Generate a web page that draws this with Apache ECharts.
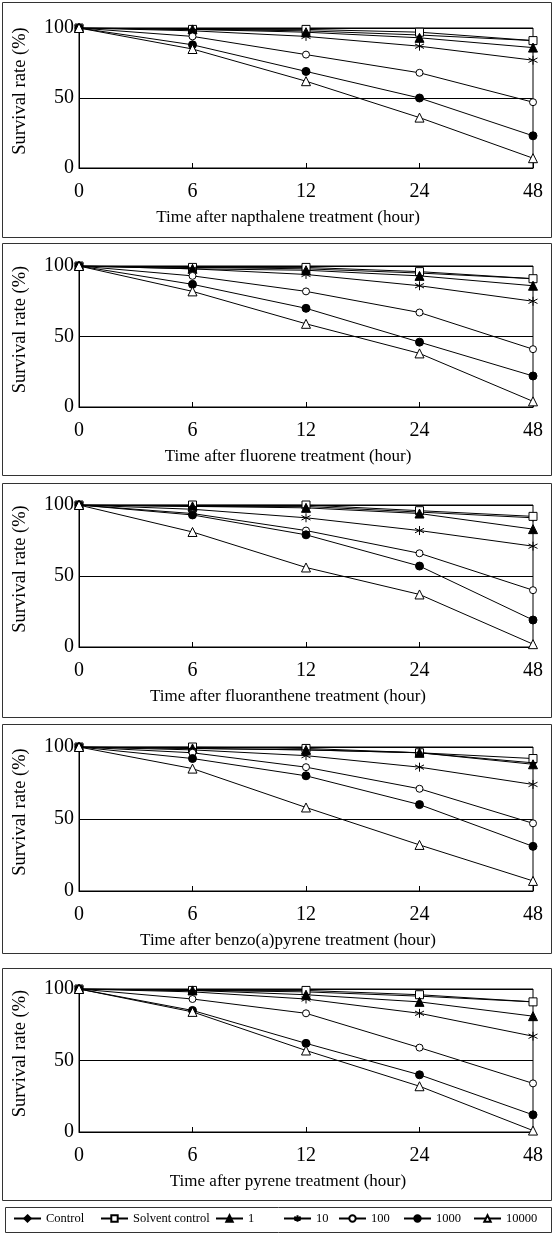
<!DOCTYPE html>
<html><head><meta charset="utf-8">
<script src="https://cdn.jsdelivr.net/npm/echarts@6/dist/echarts.min.js"></script>
<style>html,body{margin:0;padding:0;background:#fff}#c{width:555px;height:1233px}</style>
</head><body><div id="c"></div>
<script>
// ---- data ----
const hours = ['0', '6', '12', '24', '48'];
const seriesNames = ['Control', 'Solvent control', '1', '10', '100', '1000', '10000'];
const yTicks = [0, 50, 100];
const xTitles = [
  'Time after napthalene treatment (hour)',
  'Time after fluorene treatment (hour)',
  'Time after fluoranthene treatment (hour)',
  'Time after benzo(a)pyrene treatment (hour)',
  'Time after pyrene treatment (hour)'
];
const yTitle = 'Survival rate (%)';
// order: Control, Solvent control, 1, 10, 100, 1000, 10000
const napthalene = [
  [100, 99, 98, 95, 91],
  [100, 99, 99, 97, 91],
  [100, 99, 97, 93, 86],
  [100, 98, 94, 87, 77],
  [100, 94, 81, 68, 47],
  [100, 88, 69, 50, 23],
  [100, 85, 62, 36, 7]
];
const fluorene = [
  [100, 99, 98, 95, 91],
  [100, 99, 99, 96, 91],
  [100, 98, 97, 93, 86],
  [100, 98, 94, 86, 75],
  [100, 93, 82, 67, 41],
  [100, 87, 70, 46, 22],
  [100, 82, 59, 38, 4]
];
const fluoranthene = [
  [100, 99, 99, 95, 91],
  [100, 100, 100, 96, 92],
  [100, 99, 98, 94, 83],
  [100, 97, 91, 82, 71],
  [100, 94, 82, 66, 40],
  [100, 93, 79, 57, 19],
  [100, 81, 56, 37, 2]
];
const benzoapyrene = [
  [100, 99, 98, 96, 89],
  [100, 100, 99, 96, 92],
  [100, 99, 98, 96, 88],
  [100, 98, 94, 86, 74],
  [100, 96, 86, 71, 47],
  [100, 92, 80, 60, 31],
  [100, 85, 58, 32, 7]
];
const pyrene = [
  [100, 99, 98, 95, 91],
  [100, 99, 99, 96, 91],
  [100, 99, 96, 91, 81],
  [100, 98, 93, 83, 67],
  [100, 93, 83, 59, 34],
  [100, 85, 62, 40, 12],
  [100, 84, 57, 32, 1]
];
const panels = [napthalene, fluorene, fluoranthene, benzoapyrene, pyrene];

// ---- layout / style ----
const FONT = '"Liberation Serif","Times New Roman",serif';
const gridTops = [28, 266, 505, 747, 989];
const gridHeights = [140, 141, 142, 144, 143];
const boxes = [[2, 2, 549, 235], [2, 243, 549, 232], [2, 483, 549, 234], [2, 724, 549, 229], [2, 968, 549, 232], [5, 1207, 546, 25]];
const ASTER = 'path://M0,-5L0,5M-4.33,-2.5L4.33,2.5M-4.33,2.5L4.33,-2.5';
const symStyles = [
  { symbol: 'diamond', symbolSize: 7, fill: '#000' },
  { symbol: 'rect', symbolSize: 8, fill: '#fff' },
  { symbol: 'triangle', symbolSize: 9, fill: '#000' },
  { symbol: ASTER, symbolSize: 9, fill: 'none' },
  { symbol: 'circle', symbolSize: 7, fill: '#fff' },
  { symbol: 'circle', symbolSize: 8, fill: '#000' },
  { symbol: 'triangle', symbolSize: 9, fill: '#fff' }
];
const legendLefts = [13, 100, 215, 283, 338, 403, 473];

const grids = [], xAxes = [], yAxes = [], series = [];
panels.forEach((pdata, p) => {
  grids.push({ left: 79, right: 22, top: gridTops[p], height: gridHeights[p], show: true, borderColor: '#000', borderWidth: 1 });
  xAxes.push({
    gridIndex: p, type: 'category', data: hours, boundaryGap: false,
    axisLine: { lineStyle: { color: '#000', width: 1 } },
    axisTick: { inside: true, length: 5, lineStyle: { color: '#000' } },
    axisLabel: { color: '#000', fontFamily: FONT, fontSize: 20, margin: 14 },
    splitLine: { show: false },
    name: xTitles[p], nameLocation: 'middle', nameGap: 41,
    nameTextStyle: { color: '#000', fontFamily: FONT, fontSize: 17, padding: [0, 36, 0, 0] }
  });
  yAxes.push({
    gridIndex: p, type: 'value', min: yTicks[0], max: yTicks[yTicks.length - 1], interval: yTicks[1] - yTicks[0],
    axisLine: { show: true, lineStyle: { color: '#000', width: 1 } },
    axisTick: { show: false },
    axisLabel: { color: '#000', fontFamily: FONT, fontSize: 20, margin: 5 },
    splitLine: { show: true, lineStyle: { color: '#000', width: 1 } },
    name: yTitle, nameLocation: 'middle', nameGap: 49, nameRotate: 90,
    nameTextStyle: { color: '#000', fontFamily: FONT, fontSize: 18.5, padding: [0, 0, 0, 14] }
  });
  pdata.forEach((vals, i) => {
    const s = symStyles[i];
    series.push({
      type: 'line', name: seriesNames[i], xAxisIndex: p, yAxisIndex: p,
      data: vals, symbol: s.symbol, symbolSize: s.symbolSize, showAllSymbol: true,
      lineStyle: { color: '#000', width: 1 },
      itemStyle: { color: s.fill, borderColor: '#000', borderWidth: 1 },
      z: 2 + i
    });
  });
});

const legends = seriesNames.map((n, i) => ({
  data: [n], left: legendLefts[i], top: 1212, padding: 0,
  itemWidth: 27, itemHeight: 8, itemGap: 4,
  textStyle: { color: '#000', fontFamily: FONT, fontSize: 12.5 },
  selectedMode: false
}));

const graphic = boxes.map(b => ({
  type: 'rect', shape: { x: b[0] + 0.5, y: b[1] + 0.5, width: b[2], height: b[3] },
  style: { fill: 'none', stroke: '#333', lineWidth: 1 }, silent: true
}));

const chart = echarts.init(document.getElementById('c'), null, { renderer: 'canvas' });
chart.setOption({
  animation: false,
  backgroundColor: '#fff',
  grid: grids, xAxis: xAxes, yAxis: yAxes, series: series,
  legend: legends, graphic: graphic
});
</script></body></html>
